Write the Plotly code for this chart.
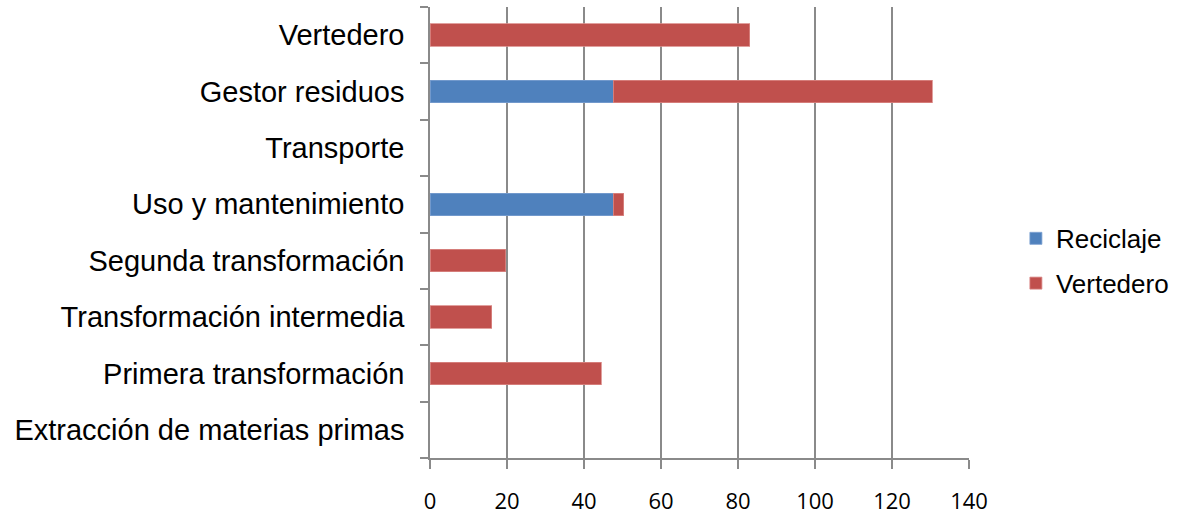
import plotly.graph_objects as go

categories = [
    "Extracción de materias primas",
    "Primera transformación",
    "Transformación intermedia",
    "Segunda transformación",
    "Uso y mantenimiento",
    "Transporte",
    "Gestor residuos",
    "Vertedero",
]
reciclaje = [None, None, None, None, 47.6, None, 47.6, None]
vertedero = [None, 44.5, 16.0, 19.7, 2.7, None, 82.8, 83.0]
x_ticks = [0, 20, 40, 60, 80, 100, 120, 140]

fig = go.Figure()
fig.add_trace(go.Bar(
    y=categories, x=reciclaje, orientation="h", name="Reciclaje",
    marker=dict(color="#4F81BD", line=dict(color="#7A9FD0", width=0.8)),
    legendgroup="a",
))
fig.add_trace(go.Bar(
    y=categories, x=vertedero, orientation="h", name="Vertedero",
    marker=dict(color="#C0504D", line=dict(color="#D98886", width=0.8)),
    legendgroup="b",
))

fig.update_layout(
    barmode="stack",
    bargap=0.6,
    width=1177, height=515,
    margin=dict(l=430, r=208, t=7, b=57, pad=0, autoexpand=False),
    paper_bgcolor="white", plot_bgcolor="white",
    font=dict(family="Liberation Sans, Arial, sans-serif", color="black"),
    legend=dict(
        x=1.087, y=0.437, xanchor="left", yanchor="middle",
        font=dict(size=26, family="Liberation Sans, Arial, sans-serif"),
        tracegroupgap=8, traceorder="grouped",
        bgcolor="rgba(0,0,0,0)",
    ),
    xaxis=dict(
        range=[0, 140], tickvals=x_ticks, ticktext=[str(v) for v in x_ticks],
        showgrid=True, gridcolor="#8a8a8a", gridwidth=1.5,
        showline=True, linecolor="#8a8a8a", linewidth=1.5,
        ticks="outside", ticklen=9, tickcolor="#8a8a8a", tickwidth=1.5,
        tickfont=dict(family="Open Sans, sans-serif", size=22, color="black"),
        ticklabelstandoff=14,
        zeroline=False, fixedrange=True, automargin=False,
    ),
    yaxis=dict(
        type="category", categoryorder="array", categoryarray=categories,
        showgrid=False,
        showline=True, linecolor="#8a8a8a", linewidth=1.5,
        ticks="outside", ticklen=8, tickcolor="#8a8a8a", tickwidth=1.5,
        tickson="boundaries",
        tickfont=dict(family="Liberation Sans, Arial, sans-serif", size=29, color="black"),
        ticklabelstandoff=18,
        fixedrange=True, automargin=False,
    ),
)

fig.write_html("out.html")
